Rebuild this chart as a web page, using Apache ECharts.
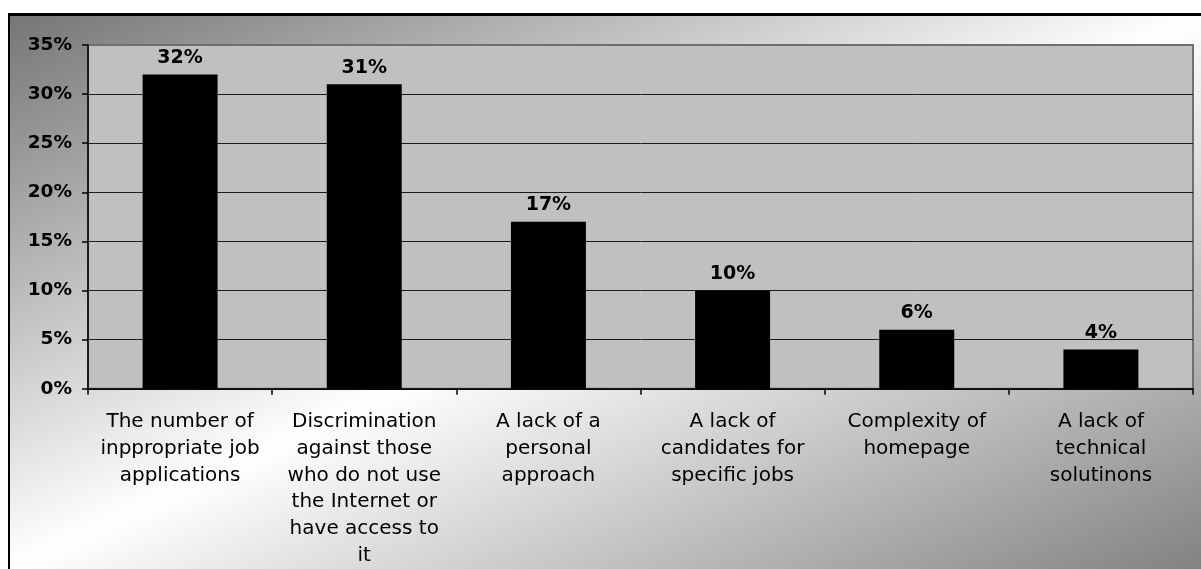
<!DOCTYPE html>
<html>
<head>
<meta charset="utf-8">
<script src="https://cdn.jsdelivr.net/npm/echarts@6/dist/echarts.min.js"></script>
<style>
  html, body { margin: 0; padding: 0; width: 1201px; height: 569px; overflow: hidden; background: #ffffff; }
  #frame {
    position: absolute; left: 8px; top: 13px; width: 1193px; height: 556px; box-sizing: border-box;
    border-left: 2px solid #000; border-top: 3px solid #000;
    background: linear-gradient(to bottom right, #767676 0%, #ffffff 50%, #828282 100%);
  }
  #chart { position: absolute; left: 0; top: 0; width: 1201px; height: 569px; }
</style>
</head>
<body>
<div id="frame"></div>
<div id="chart"></div>
<script>
const categories = [
  "The number of\ninppropriate job\napplications",
  "Discrimination\nagainst those\nwho do not use\nthe Internet or\nhave access to\nit",
  "A lack of a\npersonal\napproach",
  "A lack of\ncandidates for\nspecific jobs",
  "Complexity of\nhomepage",
  "A lack of\ntechnical\nsolutinons"
];
const values = [32, 31, 17, 10, 6, 4];
const yTicks = { min: 0, max: 35, interval: 5 };

const chart = echarts.init(document.getElementById('chart'), null, { renderer: 'canvas' });
const FONT = '"DejaVu Sans", Arial, sans-serif';
const gridColors = [];
for (let v = yTicks.min; v <= yTicks.max; v += yTicks.interval) {
  gridColors.push(v === yTicks.max ? '#6f6f6f' : '#1c1c1c');
}

chart.setOption({
  backgroundColor: 'transparent',
  animation: false,
  grid: {
    left: 88, top: 45, right: 8, bottom: 179,
    show: true, backgroundColor: '#c0c0c0',
    borderColor: '#6f6f6f', borderWidth: 2,
    containLabel: false
  },
  xAxis: {
    type: 'category',
    data: categories,
    axisLine: { show: true, lineStyle: { color: '#000', width: 1.5 } },
    axisTick: { show: true, length: 6, interval: 0, alignWithLabel: false, lineStyle: { color: '#000', width: 1.5 } },
    axisLabel: {
      interval: 0, margin: 20, color: '#000',
      fontFamily: FONT, fontSize: 20, lineHeight: 26.7, align: 'center'
    },
    splitLine: { show: false }
  },
  yAxis: {
    type: 'value',
    min: yTicks.min, max: yTicks.max, interval: yTicks.interval,
    axisLine: { show: true, lineStyle: { color: '#000', width: 1.5 } },
    axisTick: { show: true, length: 6, lineStyle: { color: '#000', width: 1.5 } },
    axisLabel: {
      formatter: '{value}%', margin: 16, color: '#000',
      fontFamily: FONT, fontSize: 18.5, fontWeight: 'bold'
    },
    splitLine: { show: true, lineStyle: { color: gridColors, width: 1 } }
  },
  series: [{
    type: 'bar',
    data: values,
    barWidth: '40.7%',
    itemStyle: { color: '#000' },
    label: {
      show: true, position: 'top', distance: 7,
      formatter: '{c}%', color: '#000',
      fontFamily: FONT, fontSize: 19, fontWeight: 'bold'
    }
  }]
});
</script>
</body>
</html>
